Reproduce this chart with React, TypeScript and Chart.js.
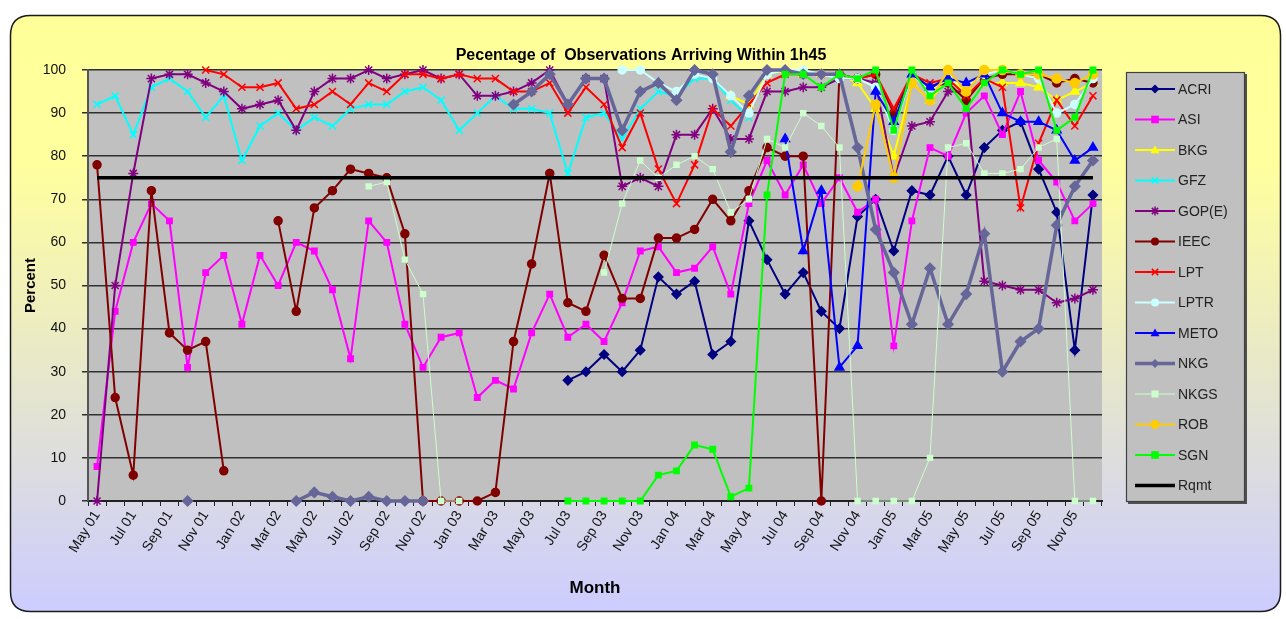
import { useEffect, useRef } from 'react';
import { Chart, registerables } from 'chart.js';

Chart.register(...registerables);

const _ = null;

// Reporting months, May 2001 – Dec 2005
const months = [
  'May 01', 'Jun 01', 'Jul 01', 'Aug 01', 'Sep 01', 'Oct 01', 'Nov 01', 'Dec 01',
  'Jan 02', 'Feb 02', 'Mar 02', 'Apr 02', 'May 02', 'Jun 02', 'Jul 02', 'Aug 02', 'Sep 02', 'Oct 02', 'Nov 02', 'Dec 02',
  'Jan 03', 'Feb 03', 'Mar 03', 'Apr 03', 'May 03', 'Jun 03', 'Jul 03', 'Aug 03', 'Sep 03', 'Oct 03', 'Nov 03', 'Dec 03',
  'Jan 04', 'Feb 04', 'Mar 04', 'Apr 04', 'May 04', 'Jun 04', 'Jul 04', 'Aug 04', 'Sep 04', 'Oct 04', 'Nov 04', 'Dec 04',
  'Jan 05', 'Feb 05', 'Mar 05', 'Apr 05', 'May 05', 'Jun 05', 'Jul 05', 'Aug 05', 'Sep 05', 'Oct 05', 'Nov 05', 'Dec 05',
];

const yTicks = [0, 10, 20, 30, 40, 50, 60, 70, 80, 90, 100];

// Percentage of observations arriving within 1h45, per analysis centre
const acri = [
  _, _, _, _, _, _, _, _,
  _, _, _, _, _, _, _, _, _, _, _, _,
  _, _, _, _, _, _, 28, 30, 34, 30, 35, 52,
  48, 51, 34, 37, 65, 56, 48, 53, 44, 40, 66, 70,
  58, 72, 71, 80, 71, 82, 86, 88, 77, 67, 35, 71,
];
const asi = [
  8, 44, 60, 69, 65, 31, 53, 57,
  41, 57, 50, 60, 58, 49, 33, 65, 60, 41, 31, 38,
  39, 24, 28, 26, 39, 48, 38, 41, 37, 46, 58, 59,
  53, 54, 59, 48, 69, 79, 71, 78, 69, 75, 67, 70,
  36, 65, 82, 80, 90, 94, 85, 95, 79, 74, 65, 69,
];
const bkg = [
  _, _, _, _, _, _, _, _,
  _, _, _, _, _, _, _, _, _, _, _, _,
  _, _, _, _, _, _, _, _, _, _, _, _,
  _, _, _, 94, 92, 99, 100, 99, 99, 99, 97, 91,
  80, 97, 93, 98, 95, 97, 97, 97, 96, 93, 95, 97,
];
const gfz = [
  92, 94, 85, 96, 98, 95, 89, 94,
  79, 87, 90, 86, 89, 87, 91, 92, 92, 95, 96, 93,
  86, 90, 94, 91, 91, 90, 76, 89, 90, 84, 91, 95,
  94, 98, 98, 93, 89, _, _, _, _, _, _, _,
  _, _, _, _, _, _, _, _, _, _, _, _,
];
const gope = [
  0, 50, 76, 98, 99, 99, 97, 95,
  91, 92, 93, 86, 95, 98, 98, 100, 98, 99, 100, 98,
  99, 94, 94, 95, 97, 100, 92, 98, 98, 73, 75, 73,
  85, 85, 91, 84, 84, 95, 95, 96, 96, 98, 98, 97,
  75, 87, 88, 95, 95, 51, 50, 49, 49, 46, 47, 49,
];
const ieec = [
  78, 24, 6, 72, 39, 35, 37, 7,
  _, _, 65, 44, 68, 72, 77, 76, 75, 62, 0, 0,
  0, 0, 2, 37, 55, 76, 46, 44, 57, 47, 47, 61,
  61, 63, 70, 65, 72, 82, 80, 80, 0, 99, 98, 99,
  90, 99, 96, 97, 93, 98, 99, 99, 99, 97, 98, 97,
];
const lpt = [
  _, _, _, _, _, _, 100, 99,
  96, 96, 97, 91, 92, 95, 92, 97, 95, 99, 99, 98,
  99, 98, 98, 95, 95, 97, 90, 96, 92, 82, 90, 77,
  69, 78, 91, 87, 92, 97, 99, 99, 99, 99, 98, 99,
  91, 99, 97, 98, 94, 98, 96, 68, 83, 93, 87, 94,
];
const lptr = [
  _, _, _, _, _, _, _, _,
  _, _, _, _, _, _, _, _, _, _, _, _,
  _, _, _, _, _, _, _, _, _, 100, 100, 97,
  95, 99, 98, 94, 90, 99, 100, 100, 99, 98, 98, 96,
  86, 99, 95, 98, 96, 99, 100, 99, 98, 90, 92, 98,
];
const meto = [
  _, _, _, _, _, _, _, _,
  _, _, _, _, _, _, _, _, _, _, _, _,
  _, _, _, _, _, _, _, _, _, _, _, _,
  _, _, _, _, _, _, 84, 58, 72, 31, 36, 95,
  88, 99, 96, 98, 97, 99, 90, 88, 88, 86, 79, 82,
];
const nkg = [
  _, _, _, _, _, 0, _, _,
  _, _, _, 0, 2, 1, 0, 1, 0, 0, 0, _,
  _, _, _, 92, 95, 99, 92, 98, 98, 86, 95, 97,
  93, 100, 99, 81, 94, 100, 100, 99, 99, 99, 82, 63,
  53, 41, 54, 41, 48, 62, 30, 37, 40, 64, 73, 79,
];
const nkgs = [
  _, _, _, _, _, _, _, _,
  _, _, _, _, _, _, _, 73, 74, 56, 48, 0,
  0, _, _, _, _, _, _, _, 53, 69, 79, 75,
  78, 80, 77, 67, 70, 84, 82, 90, 87, 82, 0, 0,
  0, 0, 10, 82, 83, 76, 76, 77, 82, 84, 0, 0,
];
const rob = [
  _, _, _, _, _, _, _, _,
  _, _, _, _, _, _, _, _, _, _, _, _,
  _, _, _, _, _, _, _, _, _, _, _, _,
  _, _, _, _, _, _, _, _, _, _, 73, 92,
  75, 97, 93, 100, 95, 100, 100, 99, 99, 98, 97, 99,
];
const sgn = [
  _, _, _, _, _, _, _, _,
  _, _, _, _, _, _, _, _, _, _, _, _,
  _, _, _, _, _, _, 0, 0, 0, 0, 0, 6,
  7, 13, 12, 1, 3, 71, 99, 99, 96, 99, 98, 100,
  86, 100, 94, 97, 91, 97, 100, 99, 100, 86, 89, 100,
];

// Timeliness requirement (percent)
const RQMT = 75;
const rqmt = months.map(() => RQMT);

type Marker = 'rectRot' | 'rect' | 'triangle' | 'crossRot' | 'star' | 'circle' | 'cross' | false;

interface SeriesDef {
  label: string;
  data: (number | null)[];
  color: string;
  marker: Marker;
  radius: number;
  width: number;
}

const series: SeriesDef[] = [
  { label: 'ACRI', data: acri, color: '#000080', marker: 'rectRot', radius: 4.5, width: 2 },
  { label: 'ASI', data: asi, color: '#FF00FF', marker: 'rect', radius: 3.8, width: 2 },
  { label: 'BKG', data: bkg, color: '#FFFF00', marker: 'triangle', radius: 5, width: 2 },
  { label: 'GFZ', data: gfz, color: '#00FFFF', marker: 'crossRot', radius: 5, width: 2 },
  { label: 'GOP(E)', data: gope, color: '#800080', marker: 'star', radius: 5, width: 2 },
  { label: 'IEEC', data: ieec, color: '#800000', marker: 'circle', radius: 4, width: 2 },
  { label: 'LPT', data: lpt, color: '#FF0000', marker: 'crossRot', radius: 5, width: 2 },
  { label: 'LPTR', data: lptr, color: '#CCFFFF', marker: 'circle', radius: 4, width: 2 },
  { label: 'METO', data: meto, color: '#0000FF', marker: 'triangle', radius: 5, width: 2 },
  { label: 'NKG', data: nkg, color: '#666699', marker: 'rectRot', radius: 5, width: 3.5 },
  { label: 'NKGS', data: nkgs, color: '#CCFFCC', marker: 'rect', radius: 3.5, width: 1 },
  { label: 'ROB', data: rob, color: '#FFCC00', marker: 'circle', radius: 4.5, width: 2 },
  { label: 'SGN', data: sgn, color: '#00FF00', marker: 'rect', radius: 3.8, width: 2 },
  { label: 'Rqmt', data: rqmt, color: '#000000', marker: false, radius: 0, width: 3.5 },
];

const FONT = '"Liberation Sans", Arial, Helvetica, sans-serif';
const W = 1286;
const H = 619;

function roundRect(ctx: CanvasRenderingContext2D, x: number, y: number, w: number, h: number, r: number) {
  ctx.beginPath();
  ctx.moveTo(x + r, y);
  ctx.lineTo(x + w - r, y);
  ctx.quadraticCurveTo(x + w, y, x + w, y + r);
  ctx.lineTo(x + w, y + h - r);
  ctx.quadraticCurveTo(x + w, y + h, x + w - r, y + h);
  ctx.lineTo(x + r, y + h);
  ctx.quadraticCurveTo(x, y + h, x, y + h - r);
  ctx.lineTo(x, y + r);
  ctx.quadraticCurveTo(x, y, x + r, y);
  ctx.closePath();
}

function drawMarker(ctx: CanvasRenderingContext2D, m: Marker, x: number, y: number, r: number, color: string) {
  if (!m) return;
  ctx.save();
  ctx.fillStyle = color;
  ctx.strokeStyle = color;
  ctx.lineWidth = 1.5;
  ctx.beginPath();
  switch (m) {
    case 'rectRot':
      ctx.moveTo(x, y - r);
      ctx.lineTo(x + r, y);
      ctx.lineTo(x, y + r);
      ctx.lineTo(x - r, y);
      ctx.closePath();
      ctx.fill();
      break;
    case 'rect':
      ctx.rect(x - r, y - r, 2 * r, 2 * r);
      ctx.fill();
      break;
    case 'triangle':
      ctx.moveTo(x, y - r);
      ctx.lineTo(x + r, y + r * 0.7);
      ctx.lineTo(x - r, y + r * 0.7);
      ctx.closePath();
      ctx.fill();
      break;
    case 'circle':
      ctx.arc(x, y, r, 0, Math.PI * 2);
      ctx.fill();
      break;
    case 'crossRot':
      ctx.moveTo(x - r * 0.7, y - r * 0.7);
      ctx.lineTo(x + r * 0.7, y + r * 0.7);
      ctx.moveTo(x + r * 0.7, y - r * 0.7);
      ctx.lineTo(x - r * 0.7, y + r * 0.7);
      ctx.stroke();
      break;
    case 'star':
      ctx.moveTo(x - r * 0.7, y - r * 0.7);
      ctx.lineTo(x + r * 0.7, y + r * 0.7);
      ctx.moveTo(x + r * 0.7, y - r * 0.7);
      ctx.lineTo(x - r * 0.7, y + r * 0.7);
      ctx.moveTo(x, y - r);
      ctx.lineTo(x, y + r);
      ctx.stroke();
      break;
    default:
      break;
  }
  ctx.restore();
}

// Panel background, grey plot area
const backdrop = {
  id: 'backdrop',
  beforeDraw(chart: Chart) {
    const { ctx, chartArea: a } = chart;
    ctx.save();
    ctx.fillStyle = '#FFFFFF';
    ctx.fillRect(0, 0, W, H);
    const g = ctx.createLinearGradient(0, 15, 0, 612);
    g.addColorStop(0, '#FFFF99');
    g.addColorStop(0.25, '#FFFF9E');
    g.addColorStop(1, '#CCCCFF');
    roundRect(ctx, 10.5, 15.5, 1270, 596, 20);
    ctx.fillStyle = g;
    ctx.fill();
    ctx.strokeStyle = '#1a1a1a';
    ctx.lineWidth = 1.5;
    ctx.stroke();
    ctx.fillStyle = '#C0C0C0';
    ctx.fillRect(a.left, a.top, a.right - a.left, a.bottom - a.top);
    ctx.restore();
  },
};

// Title and the boxed series key on the right
const annotations = {
  id: 'annotations',
  afterDraw(chart: Chart) {
    const { ctx } = chart;
    ctx.save();
    ctx.fillStyle = '#000';
    ctx.font = `bold 16px ${FONT}`;
    ctx.textAlign = 'center';
    ctx.textBaseline = 'middle';
    ctx.fillText('Pecentage of  Observations Arriving Within 1h45', 641, 56);

    const bx = 1126;
    const by = 72;
    const bw = 119;
    const bh = 430;
    ctx.fillStyle = '#505050';
    ctx.fillRect(bx + 2, by + 2, bw, bh);
    ctx.fillStyle = '#C0C0C0';
    ctx.fillRect(bx, by, bw, bh);
    ctx.strokeStyle = '#404040';
    ctx.lineWidth = 1.2;
    ctx.strokeRect(bx + 0.5, by + 0.5, bw - 1, bh - 1);

    ctx.font = `14px ${FONT}`;
    ctx.textAlign = 'left';
    series.forEach((s, i) => {
      const y = 89 + i * 30.5;
      ctx.strokeStyle = s.color;
      ctx.lineWidth = s.width;
      ctx.beginPath();
      ctx.moveTo(1135, y);
      ctx.lineTo(1175, y);
      ctx.stroke();
      drawMarker(ctx, s.marker, 1155, y, Math.min(s.radius, 4.5), s.color);
      ctx.fillStyle = '#222';
      ctx.fillText(s.label, 1178, y + 1);
    });
    ctx.restore();
  },
};

export default function App() {
  const ref = useRef<HTMLCanvasElement>(null);

  useEffect(() => {
    document.body.style.margin = '0';
    const canvas = ref.current;
    if (!canvas) return;

    Chart.defaults.font.family = FONT;

    const chart = new Chart(canvas, {
      type: 'line',
      data: {
        labels: months,
        datasets: series.map((s, i) => ({
          label: s.label,
          data: s.data,
          borderColor: s.color,
          backgroundColor: s.color,
          borderWidth: s.width,
          pointStyle: s.marker,
          pointRadius: s.radius,
          pointBorderWidth: 1.5,
          pointBackgroundColor: s.color,
          pointBorderColor: s.color,
          tension: 0,
          fill: false,
          spanGaps: false,
          clip: false as any,
          order: series.length - i,
        })),
      },
      options: {
        responsive: false,
        animation: false,
        devicePixelRatio: 1,
        events: [],
        layout: { padding: { left: 18, top: 70, right: W - 1102, bottom: 16 } },
        plugins: {
          legend: { display: false },
          tooltip: { enabled: false },
          title: { display: false },
        },
        scales: {
          x: {
            type: 'category',
            offset: true,
            grid: {
              display: true,
              drawOnChartArea: false,
              drawTicks: true,
              tickLength: 5,
              color: '#222',
              offset: true,
            },
            border: { display: true, color: '#222', width: 2 },
            ticks: {
              autoSkip: false,
              minRotation: 58,
              maxRotation: 58,
              padding: 2,
              color: '#111',
              font: { size: 14, family: FONT },
              callback: (_v: any, i: number) => (i % 2 === 0 ? months[i] : ''),
            },
            title: {
              display: true,
              text: 'Month',
              color: '#000',
              font: { size: 17, weight: 'bold', family: FONT },
            },
            afterFit: (s: any) => {
              s.height = H - 16 - 501;
            },
          },
          y: {
            min: 0,
            max: 100,
            afterBuildTicks: (s: any) => {
              s.ticks = yTicks.map((v) => ({ value: v }));
            },
            ticks: {
              padding: 16,
              color: '#111',
              font: { size: 14, family: FONT },
            },
            grid: { color: '#303030', lineWidth: 1.5, tickLength: 6 },
            border: { display: true, color: '#555', width: 2 },
            title: {
              display: true,
              text: 'Percent',
              color: '#000',
              font: { size: 15, weight: 'bold', family: FONT },
            },
            afterFit: (s: any) => {
              s.width = 70;
            },
          },
        },
      },
      plugins: [backdrop, annotations],
    });

    return () => chart.destroy();
  }, []);

  return (
    <div style={{ width: W, height: H, overflow: 'hidden' }}>
      <canvas ref={ref} width={W} height={H} style={{ display: 'block' }} />
    </div>
  );
}
